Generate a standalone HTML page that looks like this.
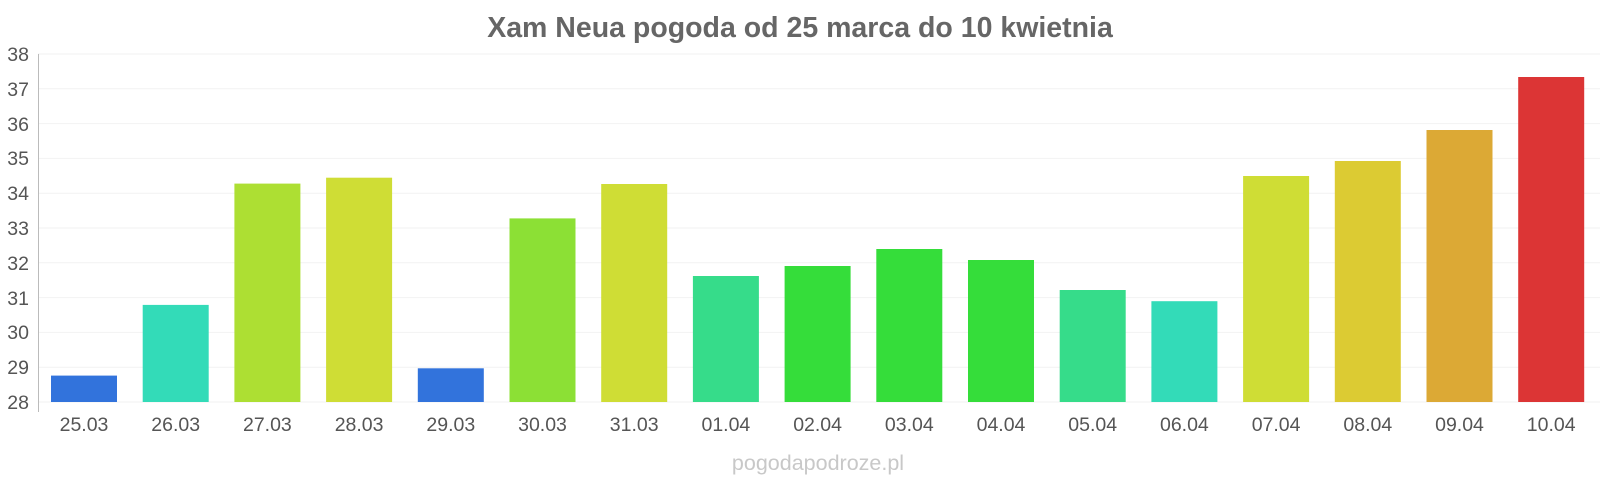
<!DOCTYPE html>
<html><head><meta charset="utf-8"><style>
html,body{margin:0;padding:0;background:#fff;}
svg{display:block;font-family:"Liberation Sans",sans-serif;}
</style></head><body>
<svg width="1600" height="480" viewBox="0 0 1600 480" xmlns="http://www.w3.org/2000/svg">
<text x="800" y="37" text-anchor="middle" font-size="28.5" font-weight="bold" fill="#666">Xam Neua pogoda od 25 marca do 10 kwietnia</text>
<g stroke="#f2f2f2" stroke-width="1">
<line x1="38" x2="1600" y1="54" y2="54"/><line x1="38" x2="1600" y1="88.8" y2="88.8"/>
<line x1="38" x2="1600" y1="123.6" y2="123.6"/><line x1="38" x2="1600" y1="158.4" y2="158.4"/>
<line x1="38" x2="1600" y1="193.2" y2="193.2"/><line x1="38" x2="1600" y1="228" y2="228"/>
<line x1="38" x2="1600" y1="262.8" y2="262.8"/><line x1="38" x2="1600" y1="297.6" y2="297.6"/>
<line x1="38" x2="1600" y1="332.4" y2="332.4"/><line x1="38" x2="1600" y1="367.2" y2="367.2"/>
<line x1="38" x2="1600" y1="402" y2="402"/>
</g>
<line x1="38.5" x2="38.5" y1="54" y2="412" stroke="#bbb"/>
<g font-size="19.5" fill="#555" text-anchor="end">
<text x="29" y="61">38</text><text x="29" y="96">37</text><text x="29" y="131">36</text>
<text x="29" y="165">35</text><text x="29" y="200">34</text><text x="29" y="235">33</text>
<text x="29" y="270">32</text><text x="29" y="305">31</text><text x="29" y="339">30</text>
<text x="29" y="374">29</text><text x="29" y="409">28</text>
</g>
<g>
<rect x="51" y="375.6" width="66" height="26.4" fill="#3273dc"/>
<rect x="142.7" y="304.9" width="66" height="97.1" fill="#33dbb8"/>
<rect x="234.4" y="183.6" width="66" height="218.4" fill="#addf33"/>
<rect x="326.1" y="177.7" width="66" height="224.3" fill="#cfdd35"/>
<rect x="417.8" y="368.3" width="66" height="33.7" fill="#3273dc"/>
<rect x="509.5" y="218.4" width="66" height="183.6" fill="#8ce035"/>
<rect x="601.2" y="184" width="66" height="218" fill="#cfdd35"/>
<rect x="692.9" y="276" width="66" height="126" fill="#36dc8a"/>
<rect x="784.6" y="266" width="66" height="136" fill="#35dd3a"/>
<rect x="876.3" y="249" width="66" height="153" fill="#35dd3a"/>
<rect x="968" y="260" width="66" height="142" fill="#35dd3a"/>
<rect x="1059.7" y="290" width="66" height="112" fill="#36dc8a"/>
<rect x="1151.4" y="301.2" width="66" height="100.8" fill="#33dbb8"/>
<rect x="1243.1" y="176" width="66" height="226" fill="#cfdd35"/>
<rect x="1334.8" y="161" width="66" height="241" fill="#dccb33"/>
<rect x="1426.5" y="130" width="66" height="272" fill="#dca935"/>
<rect x="1518.2" y="77" width="66" height="325" fill="#dc3535"/>
</g>
<g font-size="19.5" fill="#555" text-anchor="middle">
<text x="84" y="431">25.03</text><text x="175.7" y="431">26.03</text><text x="267.4" y="431">27.03</text>
<text x="359.1" y="431">28.03</text><text x="450.8" y="431">29.03</text><text x="542.5" y="431">30.03</text>
<text x="634.2" y="431">31.03</text><text x="725.9" y="431">01.04</text><text x="817.6" y="431">02.04</text>
<text x="909.3" y="431">03.04</text><text x="1001" y="431">04.04</text><text x="1092.7" y="431">05.04</text>
<text x="1184.4" y="431">06.04</text><text x="1276.1" y="431">07.04</text><text x="1367.8" y="431">08.04</text>
<text x="1459.5" y="431">09.04</text><text x="1551.2" y="431">10.04</text>
</g>
<text x="818" y="470" text-anchor="middle" font-size="21.5" fill="#c8c8c8">pogodapodroze.pl</text>
</svg>
</body></html>
